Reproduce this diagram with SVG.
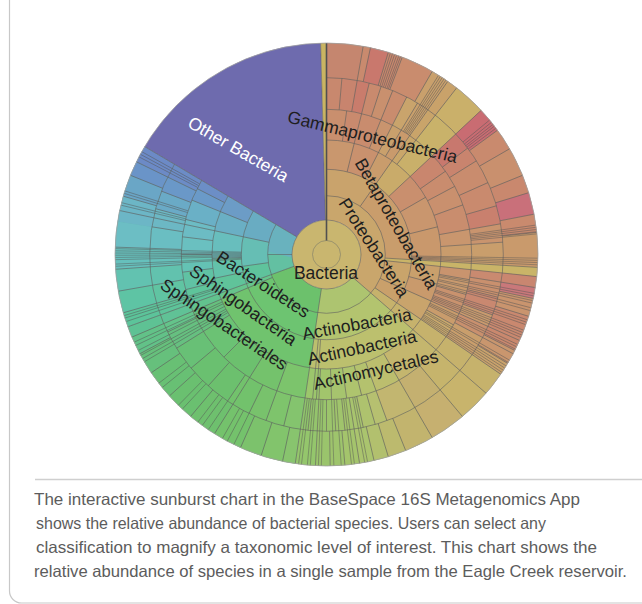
<svg xmlns="http://www.w3.org/2000/svg" width="642" height="604" viewBox="0 0 642 604">
<style>
.cl circle{fill:none}
.w2{stroke-width:24.3}.w3{stroke-width:26.4}.w4{stroke-width:29.3}.w5{stroke-width:30.7}.w6{stroke-width:31.6}.w7{stroke-width:34.7}.wA{stroke-width:177}
.ln{stroke:#606060;stroke-width:0.6;fill:none}
.fn{stroke:#555;stroke-width:0.45}
.arc{fill:none;stroke:#606060;stroke-width:0.6}
.lb{font-family:"Liberation Sans",Arial,Helvetica,sans-serif;font-size:17.5px;fill:#1e1e1e;text-anchor:middle}
.cap{font-family:"Liberation Sans",Arial,Helvetica,sans-serif;font-size:16.5px;fill:#5c5c5c}
</style>
<rect width="642" height="604" fill="#fff"/>
<g id="frame">
<path d="M9.5 0V591a12 12 0 0 0 12 12H642" fill="none" stroke="#c8c8c8" stroke-width="1.2"/>
<line x1="35" y1="479.5" x2="642" y2="479.5" stroke="#cfcfcf" stroke-width="1.3"/>
</g>

<g id="cells" class="cl" transform="translate(326.5 254.5) rotate(-90)">
<circle r="123" class="wA" pathLength="360" stroke="#c9986c" stroke-dasharray="131 360"/>
<circle r="123" class="wA" pathLength="360" stroke="#b9c06e" stroke-dasharray="57.5 360" stroke-dashoffset="-131"/>
<circle r="123" class="wA" pathLength="360" stroke="#70c26e" stroke-dasharray="61.5 360" stroke-dashoffset="-188.5"/>
<circle r="123" class="wA" pathLength="360" stroke="#66bcb6" stroke-dasharray="50.7 360" stroke-dashoffset="-250"/>
<circle r="123" class="wA" pathLength="360" stroke="#6e6bae" stroke-dasharray="57.7 360" stroke-dashoffset="-300.7"/>
<circle r="123" class="wA" pathLength="360" stroke="#c9b462" stroke-dasharray="1.6 360" stroke-dashoffset="-358.4"/>

<circle r="46.65" class="w2" pathLength="360" stroke="#c9a66c" stroke-dasharray="131 360"/>
<circle r="46.65" class="w2" pathLength="360" stroke="#adc470" stroke-dasharray="57.5 360" stroke-dashoffset="-131"/>
<circle r="46.65" class="w2" pathLength="360" stroke="#6cc16c" stroke-dasharray="61.5 360" stroke-dashoffset="-188.5"/>
<circle r="46.65" class="w2" pathLength="360" stroke="#63c0a2" stroke-dasharray="20 360" stroke-dashoffset="-250"/>
<circle r="46.65" class="w2" pathLength="360" stroke="#69b2be" stroke-dasharray="30.7 360" stroke-dashoffset="-270"/>

<circle r="72" class="w3" pathLength="360" stroke="#c9a36c" stroke-dasharray="35 360"/>
<circle r="72" class="w3" pathLength="360" stroke="#c99d6c" stroke-dasharray="58.5 360" stroke-dashoffset="-35"/>
<circle r="72" class="w3" pathLength="360" stroke="#c9b468" stroke-dasharray="2.5 360" stroke-dashoffset="-93.5"/>
<circle r="72" class="w3" pathLength="360" stroke="#c9a46b" stroke-dasharray="18 360" stroke-dashoffset="-96"/>
<circle r="72" class="w3" pathLength="360" stroke="#c9a06b" stroke-dasharray="10.5 360" stroke-dashoffset="-114"/>
<circle r="72" class="w3" pathLength="360" stroke="#c6b26c" stroke-dasharray="6.5 360" stroke-dashoffset="-124.5"/>
<circle r="72" class="w3" pathLength="360" stroke="#b3c46f" stroke-dasharray="57.5 360" stroke-dashoffset="-131"/>
<circle r="72" class="w3" pathLength="360" stroke="#6dc471" stroke-dasharray="58.5 360" stroke-dashoffset="-188.5"/>
<circle r="72" class="w3" pathLength="360" stroke="#66c48c" stroke-dasharray="3 360" stroke-dashoffset="-247"/>
<circle r="72" class="w3" pathLength="360" stroke="#5fc39c" stroke-dasharray="12 360" stroke-dashoffset="-250"/>
<circle r="72" class="w3" pathLength="360" stroke="#66beb4" stroke-dasharray="20 360" stroke-dashoffset="-262"/>
<circle r="72" class="w3" pathLength="360" stroke="#69acc2" stroke-dasharray="18.7 360" stroke-dashoffset="-282"/>

<circle r="99.85" class="w4" pathLength="360" stroke="#c9976e" stroke-dasharray="14 360"/>
<circle r="99.85" class="w4" pathLength="360" stroke="#c9916e" stroke-dasharray="13 360" stroke-dashoffset="-14"/>
<circle r="99.85" class="w4" pathLength="360" stroke="#c99c6c" stroke-dasharray="8 360" stroke-dashoffset="-27"/>
<circle r="99.85" class="w4" pathLength="360" stroke="#c9ab6a" stroke-dasharray="12 360" stroke-dashoffset="-35"/>
<circle r="99.85" class="w4" pathLength="360" stroke="#c98f6e" stroke-dasharray="13 360" stroke-dashoffset="-47"/>
<circle r="99.85" class="w4" pathLength="360" stroke="#c9966e" stroke-dasharray="16 360" stroke-dashoffset="-60"/>
<circle r="99.85" class="w4" pathLength="360" stroke="#c9986c" stroke-dasharray="17.5 360" stroke-dashoffset="-76"/>
<circle r="99.85" class="w4" pathLength="360" stroke="#c9b468" stroke-dasharray="2.5 360" stroke-dashoffset="-93.5"/>
<circle r="99.85" class="w4" pathLength="360" stroke="#c9a06c" stroke-dasharray="9 360" stroke-dashoffset="-96"/>
<circle r="99.85" class="w4" pathLength="360" stroke="#c99a6c" stroke-dasharray="9 360" stroke-dashoffset="-105"/>
<circle r="99.85" class="w4" pathLength="360" stroke="#c9a46c" stroke-dasharray="10.5 360" stroke-dashoffset="-114"/>
<circle r="99.85" class="w4" pathLength="360" stroke="#c6b26c" stroke-dasharray="6.5 360" stroke-dashoffset="-124.5"/>
<circle r="99.85" class="w4" pathLength="360" stroke="#bcc06e" stroke-dasharray="57.5 360" stroke-dashoffset="-131"/>
<circle r="99.85" class="w4" pathLength="360" stroke="#70c36e" stroke-dasharray="58.5 360" stroke-dashoffset="-188.5"/>
<circle r="99.85" class="w4" pathLength="360" stroke="#66c48c" stroke-dasharray="3 360" stroke-dashoffset="-247"/>
<circle r="99.85" class="w4" pathLength="360" stroke="#60c39a" stroke-dasharray="8 360" stroke-dashoffset="-250"/>
<circle r="99.85" class="w4" pathLength="360" stroke="#63c2aa" stroke-dasharray="10 360" stroke-dashoffset="-258"/>
<circle r="99.85" class="w4" pathLength="360" stroke="#68bebd" stroke-dasharray="14 360" stroke-dashoffset="-268"/>
<circle r="99.85" class="w4" pathLength="360" stroke="#6aafc4" stroke-dasharray="10 360" stroke-dashoffset="-282"/>
<circle r="99.85" class="w4" pathLength="360" stroke="#6c9cc6" stroke-dasharray="8.7 360" stroke-dashoffset="-292"/>

<circle r="129.85" class="w5" pathLength="360" stroke="#c98f6e" stroke-dasharray="8 360"/>
<circle r="129.85" class="w5" pathLength="360" stroke="#c98a6e" stroke-dasharray="6 360" stroke-dashoffset="-8"/>
<circle r="129.85" class="w5" pathLength="360" stroke="#c98c6e" stroke-dasharray="8 360" stroke-dashoffset="-14"/>
<circle r="129.85" class="w5" pathLength="360" stroke="#c9946e" stroke-dasharray="5 360" stroke-dashoffset="-22"/>
<circle r="129.85" class="w5" pathLength="360" stroke="#c9a06c" stroke-dasharray="4 360" stroke-dashoffset="-27"/>
<circle r="129.85" class="w5" pathLength="360" stroke="#c99a6c" stroke-dasharray="4 360" stroke-dashoffset="-31"/>
<circle r="129.85" class="w5" pathLength="360" stroke="#c9a66a" stroke-dasharray="3 360" stroke-dashoffset="-35"/>
<circle r="129.85" class="w5" pathLength="360" stroke="#c9b06a" stroke-dasharray="9 360" stroke-dashoffset="-38"/>
<circle r="129.85" class="w5" pathLength="360" stroke="#c9866e" stroke-dasharray="8 360" stroke-dashoffset="-47"/>
<circle r="129.85" class="w5" pathLength="360" stroke="#c98c6e" stroke-dasharray="7 360" stroke-dashoffset="-55"/>
<circle r="129.85" class="w5" pathLength="360" stroke="#c9906e" stroke-dasharray="8 360" stroke-dashoffset="-62"/>
<circle r="129.85" class="w5" pathLength="360" stroke="#c98d6e" stroke-dasharray="10 360" stroke-dashoffset="-70"/>
<circle r="129.85" class="w5" pathLength="360" stroke="#c9966e" stroke-dasharray="6 360" stroke-dashoffset="-80"/>
<circle r="129.85" class="w5" pathLength="360" stroke="#c99c6c" stroke-dasharray="7.5 360" stroke-dashoffset="-86"/>
<circle r="129.85" class="w5" pathLength="360" stroke="#c9b468" stroke-dasharray="2.5 360" stroke-dashoffset="-93.5"/>
<circle r="129.85" class="w5" pathLength="360" stroke="#c9946e" stroke-dasharray="4 360" stroke-dashoffset="-96"/>
<circle r="129.85" class="w5" pathLength="360" stroke="#c99a6e" stroke-dasharray="6 360" stroke-dashoffset="-100"/>
<circle r="129.85" class="w5" pathLength="360" stroke="#c9926e" stroke-dasharray="8 360" stroke-dashoffset="-106"/>
<circle r="129.85" class="w5" pathLength="360" stroke="#c99c6c" stroke-dasharray="5 360" stroke-dashoffset="-114"/>
<circle r="129.85" class="w5" pathLength="360" stroke="#c9a86c" stroke-dasharray="5.5 360" stroke-dashoffset="-119"/>
<circle r="129.85" class="w5" pathLength="360" stroke="#c6b26c" stroke-dasharray="6.5 360" stroke-dashoffset="-124.5"/>
<circle r="129.85" class="w5" pathLength="360" stroke="#c4b66e" stroke-dasharray="19 360" stroke-dashoffset="-131"/>
<circle r="129.85" class="w5" pathLength="360" stroke="#bcbe6e" stroke-dasharray="10 360" stroke-dashoffset="-150"/>
<circle r="129.85" class="w5" pathLength="360" stroke="#b4c26e" stroke-dasharray="6 360" stroke-dashoffset="-160"/>
<circle r="129.85" class="w5" pathLength="360" stroke="#aec46e" stroke-dasharray="6 360" stroke-dashoffset="-166"/>
<circle r="129.85" class="w5" pathLength="360" stroke="#a6c46e" stroke-dasharray="6 360" stroke-dashoffset="-172"/>
<circle r="129.85" class="w5" pathLength="360" stroke="#a2c56c" stroke-dasharray="5 360" stroke-dashoffset="-178"/>
<circle r="129.85" class="w5" pathLength="360" stroke="#9cc66c" stroke-dasharray="5.5 360" stroke-dashoffset="-183"/>
<circle r="129.85" class="w5" pathLength="360" stroke="#7cc46c" stroke-dasharray="11.5 360" stroke-dashoffset="-188.5"/>
<circle r="129.85" class="w5" pathLength="360" stroke="#74c26c" stroke-dasharray="12 360" stroke-dashoffset="-200"/>
<circle r="129.85" class="w5" pathLength="360" stroke="#6cc06e" stroke-dasharray="13 360" stroke-dashoffset="-212"/>
<circle r="129.85" class="w5" pathLength="360" stroke="#6bc274" stroke-dasharray="13 360" stroke-dashoffset="-225"/>
<circle r="129.85" class="w5" pathLength="360" stroke="#66c07e" stroke-dasharray="9 360" stroke-dashoffset="-238"/>
<circle r="129.85" class="w5" pathLength="360" stroke="#62c28e" stroke-dasharray="3 360" stroke-dashoffset="-247"/>
<circle r="129.85" class="w5" pathLength="360" stroke="#5ec49a" stroke-dasharray="6 360" stroke-dashoffset="-250"/>
<circle r="129.85" class="w5" pathLength="360" stroke="#60c2a4" stroke-dasharray="7 360" stroke-dashoffset="-256"/>
<circle r="129.85" class="w5" pathLength="360" stroke="#64c2b4" stroke-dasharray="7 360" stroke-dashoffset="-263"/>
<circle r="129.85" class="w5" pathLength="360" stroke="#6ac0c0" stroke-dasharray="7 360" stroke-dashoffset="-270"/>
<circle r="129.85" class="w5" pathLength="360" stroke="#6cbcc4" stroke-dasharray="7 360" stroke-dashoffset="-277"/>
<circle r="129.85" class="w5" pathLength="360" stroke="#6ab0c6" stroke-dasharray="8 360" stroke-dashoffset="-284"/>
<circle r="129.85" class="w5" pathLength="360" stroke="#6a9ac8" stroke-dasharray="5 360" stroke-dashoffset="-292"/>
<circle r="129.85" class="w5" pathLength="360" stroke="#6c8ec6" stroke-dasharray="3.7 360" stroke-dashoffset="-297"/>

<circle r="161" class="w6" pathLength="360" stroke="#c8886e" stroke-dasharray="5 360"/>
<circle r="161" class="w6" pathLength="360" stroke="#c8846e" stroke-dasharray="5 360" stroke-dashoffset="-5"/>
<circle r="161" class="w6" pathLength="360" stroke="#c97c6c" stroke-dasharray="4 360" stroke-dashoffset="-10"/>
<circle r="161" class="w6" pathLength="360" stroke="#c98a6e" stroke-dasharray="4 360" stroke-dashoffset="-14"/>
<circle r="161" class="w6" pathLength="360" stroke="#c9906e" stroke-dasharray="4 360" stroke-dashoffset="-18"/>
<circle r="161" class="w6" pathLength="360" stroke="#c98c6e" stroke-dasharray="5 360" stroke-dashoffset="-22"/>
<circle r="161" class="w6" pathLength="360" stroke="#c9a46c" stroke-dasharray="4 360" stroke-dashoffset="-27"/>
<circle r="161" class="w6" pathLength="360" stroke="#c9a06c" stroke-dasharray="4 360" stroke-dashoffset="-31"/>
<circle r="161" class="w6" pathLength="360" stroke="#c9a46a" stroke-dasharray="3 360" stroke-dashoffset="-35"/>
<circle r="161" class="w6" pathLength="360" stroke="#c9b26a" stroke-dasharray="9 360" stroke-dashoffset="-38"/>
<circle r="161" class="w6" pathLength="360" stroke="#c8786e" stroke-dasharray="6 360" stroke-dashoffset="-47"/>
<circle r="161" class="w6" pathLength="360" stroke="#c9846e" stroke-dasharray="5 360" stroke-dashoffset="-53"/>
<circle r="161" class="w6" pathLength="360" stroke="#c98c6e" stroke-dasharray="8 360" stroke-dashoffset="-58"/>
<circle r="161" class="w6" pathLength="360" stroke="#c98a6e" stroke-dasharray="8 360" stroke-dashoffset="-66"/>
<circle r="161" class="w6" pathLength="360" stroke="#c9806e" stroke-dasharray="6 360" stroke-dashoffset="-74"/>
<circle r="161" class="w6" pathLength="360" stroke="#c9946e" stroke-dasharray="6 360" stroke-dashoffset="-80"/>
<circle r="161" class="w6" pathLength="360" stroke="#c99e6c" stroke-dasharray="7.5 360" stroke-dashoffset="-86"/>
<circle r="161" class="w6" pathLength="360" stroke="#c9b468" stroke-dasharray="2.5 360" stroke-dashoffset="-93.5"/>
<circle r="161" class="w6" pathLength="360" stroke="#c98a70" stroke-dasharray="3 360" stroke-dashoffset="-96"/>
<circle r="161" class="w6" pathLength="360" stroke="#c9906e" stroke-dasharray="5 360" stroke-dashoffset="-99"/>
<circle r="161" class="w6" pathLength="360" stroke="#c98870" stroke-dasharray="6 360" stroke-dashoffset="-104"/>
<circle r="161" class="w6" pathLength="360" stroke="#c99a6e" stroke-dasharray="4 360" stroke-dashoffset="-110"/>
<circle r="161" class="w6" pathLength="360" stroke="#c9906e" stroke-dasharray="4 360" stroke-dashoffset="-114"/>
<circle r="161" class="w6" pathLength="360" stroke="#c99e6c" stroke-dasharray="6.5 360" stroke-dashoffset="-118"/>
<circle r="161" class="w6" pathLength="360" stroke="#c6b26c" stroke-dasharray="6.5 360" stroke-dashoffset="-124.5"/>
<circle r="161" class="w6" pathLength="360" stroke="#c6b46c" stroke-dasharray="9 360" stroke-dashoffset="-131"/>
<circle r="161" class="w6" pathLength="360" stroke="#c4b070" stroke-dasharray="10 360" stroke-dashoffset="-140"/>
<circle r="161" class="w6" pathLength="360" stroke="#c2b670" stroke-dasharray="10 360" stroke-dashoffset="-150"/>
<circle r="161" class="w6" pathLength="360" stroke="#b6c070" stroke-dasharray="4 360" stroke-dashoffset="-160"/>
<circle r="161" class="w6" pathLength="360" stroke="#aec26e" stroke-dasharray="4 360" stroke-dashoffset="-164"/>
<circle r="161" class="w6" pathLength="360" stroke="#a8c46e" stroke-dasharray="3 360" stroke-dashoffset="-168"/>
<circle r="161" class="w6" pathLength="360" stroke="#a4c46c" stroke-dasharray="3 360" stroke-dashoffset="-171"/>
<circle r="161" class="w6" pathLength="360" stroke="#a0c46c" stroke-dasharray="3 360" stroke-dashoffset="-174"/>
<circle r="161" class="w6" pathLength="360" stroke="#9cc46c" stroke-dasharray="3 360" stroke-dashoffset="-177"/>
<circle r="161" class="w6" pathLength="360" stroke="#98c46c" stroke-dasharray="3 360" stroke-dashoffset="-180"/>
<circle r="161" class="w6" pathLength="360" stroke="#94c46c" stroke-dasharray="3 360" stroke-dashoffset="-183"/>
<circle r="161" class="w6" pathLength="360" stroke="#90c46c" stroke-dasharray="2.5 360" stroke-dashoffset="-186"/>
<circle r="161" class="w6" pathLength="360" stroke="#84c46e" stroke-dasharray="5.5 360" stroke-dashoffset="-188.5"/>
<circle r="161" class="w6" pathLength="360" stroke="#7ec46c" stroke-dasharray="6 360" stroke-dashoffset="-194"/>
<circle r="161" class="w6" pathLength="360" stroke="#78c26c" stroke-dasharray="6 360" stroke-dashoffset="-200"/>
<circle r="161" class="w6" pathLength="360" stroke="#72c26c" stroke-dasharray="8 360" stroke-dashoffset="-206"/>
<circle r="161" class="w6" pathLength="360" stroke="#6cc06e" stroke-dasharray="8 360" stroke-dashoffset="-214"/>
<circle r="161" class="w6" pathLength="360" stroke="#6ac070" stroke-dasharray="8 360" stroke-dashoffset="-222"/>
<circle r="161" class="w6" pathLength="360" stroke="#68c076" stroke-dasharray="8 360" stroke-dashoffset="-230"/>
<circle r="161" class="w6" pathLength="360" stroke="#66c080" stroke-dasharray="6 360" stroke-dashoffset="-238"/>
<circle r="161" class="w6" pathLength="360" stroke="#64c48a" stroke-dasharray="3 360" stroke-dashoffset="-244"/>
<circle r="161" class="w6" pathLength="360" stroke="#60c296" stroke-dasharray="3 360" stroke-dashoffset="-247"/>
<circle r="161" class="w6" pathLength="360" stroke="#5ec49a" stroke-dasharray="4 360" stroke-dashoffset="-250"/>
<circle r="161" class="w6" pathLength="360" stroke="#60c4a2" stroke-dasharray="6 360" stroke-dashoffset="-254"/>
<circle r="161" class="w6" pathLength="360" stroke="#62c2ae" stroke-dasharray="6 360" stroke-dashoffset="-260"/>
<circle r="161" class="w6" pathLength="360" stroke="#66c0ba" stroke-dasharray="6 360" stroke-dashoffset="-266"/>
<circle r="161" class="w6" pathLength="360" stroke="#6abec2" stroke-dasharray="7 360" stroke-dashoffset="-272"/>
<circle r="161" class="w6" pathLength="360" stroke="#6cb8c4" stroke-dasharray="6 360" stroke-dashoffset="-279"/>
<circle r="161" class="w6" pathLength="360" stroke="#6aaac6" stroke-dasharray="6 360" stroke-dashoffset="-285"/>
<circle r="161" class="w6" pathLength="360" stroke="#6a98c8" stroke-dasharray="5 360" stroke-dashoffset="-291"/>
<circle r="161" class="w6" pathLength="360" stroke="#6c8cc6" stroke-dasharray="4.7 360" stroke-dashoffset="-296"/>

<circle r="194.15" class="w7" pathLength="360" stroke="#c5866f" stroke-dasharray="10 360"/>
<circle r="194.15" class="w7" pathLength="360" stroke="#c98a6e" stroke-dasharray="2 360" stroke-dashoffset="-10"/>
<circle r="194.15" class="w7" pathLength="360" stroke="#c9786d" stroke-dasharray="5 360" stroke-dashoffset="-12"/>
<circle r="194.15" class="w7" pathLength="360" stroke="#c9886e" stroke-dasharray="4 360" stroke-dashoffset="-17"/>
<circle r="194.15" class="w7" pathLength="360" stroke="#c98c6e" stroke-dasharray="9 360" stroke-dashoffset="-21"/>
<circle r="194.15" class="w7" pathLength="360" stroke="#c9a06c" stroke-dasharray="5 360" stroke-dashoffset="-30"/>
<circle r="194.15" class="w7" pathLength="360" stroke="#c9a26a" stroke-dasharray="3 360" stroke-dashoffset="-35"/>
<circle r="194.15" class="w7" pathLength="360" stroke="#cab06a" stroke-dasharray="9 360" stroke-dashoffset="-38"/>
<circle r="194.15" class="w7" pathLength="360" stroke="#c96c72" stroke-dasharray="7 360" stroke-dashoffset="-47"/>
<circle r="194.15" class="w7" pathLength="360" stroke="#c98a6e" stroke-dasharray="6 360" stroke-dashoffset="-54"/>
<circle r="194.15" class="w7" pathLength="360" stroke="#c9906e" stroke-dasharray="8 360" stroke-dashoffset="-60"/>
<circle r="194.15" class="w7" pathLength="360" stroke="#c9886e" stroke-dasharray="5 360" stroke-dashoffset="-68"/>
<circle r="194.15" class="w7" pathLength="360" stroke="#c9707a" stroke-dasharray="6 360" stroke-dashoffset="-73"/>
<circle r="194.15" class="w7" pathLength="360" stroke="#c98a6e" stroke-dasharray="5 360" stroke-dashoffset="-79"/>
<circle r="194.15" class="w7" pathLength="360" stroke="#c99a6c" stroke-dasharray="9.5 360" stroke-dashoffset="-84"/>
<circle r="194.15" class="w7" pathLength="360" stroke="#c9b468" stroke-dasharray="2.5 360" stroke-dashoffset="-93.5"/>
<circle r="194.15" class="w7" pathLength="360" stroke="#c98670" stroke-dasharray="3 360" stroke-dashoffset="-96"/>
<circle r="194.15" class="w7" pathLength="360" stroke="#c9787a" stroke-dasharray="3 360" stroke-dashoffset="-99"/>
<circle r="194.15" class="w7" pathLength="360" stroke="#c9946e" stroke-dasharray="5 360" stroke-dashoffset="-102"/>
<circle r="194.15" class="w7" pathLength="360" stroke="#c9886f" stroke-dasharray="7 360" stroke-dashoffset="-107"/>
<circle r="194.15" class="w7" pathLength="360" stroke="#c9886e" stroke-dasharray="3 360" stroke-dashoffset="-114"/>
<circle r="194.15" class="w7" pathLength="360" stroke="#c9966e" stroke-dasharray="4 360" stroke-dashoffset="-117"/>
<circle r="194.15" class="w7" pathLength="360" stroke="#c9a26c" stroke-dasharray="3.5 360" stroke-dashoffset="-121"/>
<circle r="194.15" class="w7" pathLength="360" stroke="#c6b26c" stroke-dasharray="6.5 360" stroke-dashoffset="-124.5"/>
<circle r="194.15" class="w7" pathLength="360" stroke="#c8b46c" stroke-dasharray="9 360" stroke-dashoffset="-131"/>
<circle r="194.15" class="w7" pathLength="360" stroke="#c6b070" stroke-dasharray="10 360" stroke-dashoffset="-140"/>
<circle r="194.15" class="w7" pathLength="360" stroke="#c2b46e" stroke-dasharray="8 360" stroke-dashoffset="-150"/>
<circle r="194.15" class="w7" pathLength="360" stroke="#bcba6e" stroke-dasharray="5 360" stroke-dashoffset="-158"/>
<circle r="194.15" class="w7" pathLength="360" stroke="#b2c06e" stroke-dasharray="4 360" stroke-dashoffset="-163"/>
<circle r="194.15" class="w7" pathLength="360" stroke="#aac46e" stroke-dasharray="4 360" stroke-dashoffset="-167"/>
<circle r="194.15" class="w7" pathLength="360" stroke="#a4c46c" stroke-dasharray="4 360" stroke-dashoffset="-171"/>
<circle r="194.15" class="w7" pathLength="360" stroke="#9ec46c" stroke-dasharray="4 360" stroke-dashoffset="-175"/>
<circle r="194.15" class="w7" pathLength="360" stroke="#9ac46c" stroke-dasharray="4 360" stroke-dashoffset="-179"/>
<circle r="194.15" class="w7" pathLength="360" stroke="#94c66c" stroke-dasharray="5.5 360" stroke-dashoffset="-183"/>
<circle r="194.15" class="w7" pathLength="360" stroke="#88c46e" stroke-dasharray="3.5 360" stroke-dashoffset="-188.5"/>
<circle r="194.15" class="w7" pathLength="360" stroke="#82c46c" stroke-dasharray="6 360" stroke-dashoffset="-192"/>
<circle r="194.15" class="w7" pathLength="360" stroke="#7cc26c" stroke-dasharray="6 360" stroke-dashoffset="-198"/>
<circle r="194.15" class="w7" pathLength="360" stroke="#74c26c" stroke-dasharray="8 360" stroke-dashoffset="-204"/>
<circle r="194.15" class="w7" pathLength="360" stroke="#6ec06e" stroke-dasharray="8 360" stroke-dashoffset="-212"/>
<circle r="194.15" class="w7" pathLength="360" stroke="#6ac070" stroke-dasharray="8 360" stroke-dashoffset="-220"/>
<circle r="194.15" class="w7" pathLength="360" stroke="#68c074" stroke-dasharray="8 360" stroke-dashoffset="-228"/>
<circle r="194.15" class="w7" pathLength="360" stroke="#66c07c" stroke-dasharray="6 360" stroke-dashoffset="-236"/>
<circle r="194.15" class="w7" pathLength="360" stroke="#62c288" stroke-dasharray="5 360" stroke-dashoffset="-242"/>
<circle r="194.15" class="w7" pathLength="360" stroke="#5ec294" stroke-dasharray="3 360" stroke-dashoffset="-247"/>
<circle r="194.15" class="w7" pathLength="360" stroke="#5cc49a" stroke-dasharray="4 360" stroke-dashoffset="-250"/>
<circle r="194.15" class="w7" pathLength="360" stroke="#5ec4a4" stroke-dasharray="6 360" stroke-dashoffset="-254"/>
<circle r="194.15" class="w7" pathLength="360" stroke="#62c2b0" stroke-dasharray="6 360" stroke-dashoffset="-260"/>
<circle r="194.15" class="w7" pathLength="360" stroke="#66c0bc" stroke-dasharray="6 360" stroke-dashoffset="-266"/>
<circle r="194.15" class="w7" pathLength="360" stroke="#6cbec4" stroke-dasharray="7 360" stroke-dashoffset="-272"/>
<circle r="194.15" class="w7" pathLength="360" stroke="#6cb6c6" stroke-dasharray="7 360" stroke-dashoffset="-279"/>
<circle r="194.15" class="w7" pathLength="360" stroke="#6aa6c6" stroke-dasharray="6 360" stroke-dashoffset="-286"/>
<circle r="194.15" class="w7" pathLength="360" stroke="#6a94c8" stroke-dasharray="4 360" stroke-dashoffset="-292"/>
<circle r="194.15" class="w7" pathLength="360" stroke="#6c8ac6" stroke-dasharray="4.7 360" stroke-dashoffset="-296"/>
</g>

<g id="center">
<circle cx="326.5" cy="254.5" r="34.5" fill="#c9b66f" stroke="#606060" stroke-width="0.6"/>
<circle cx="326.5" cy="254.5" r="14" fill="none" stroke="#7a7a6a" stroke-width="0.6"/>
</g>

<g id="connectors">
<g class="arc" transform="translate(326.5 254.5) rotate(-90)">
<circle r="58.8" pathLength="360" stroke-dasharray="300.7 360"/>
<circle r="85.2" pathLength="360" stroke-dasharray="300.7 360"/>
<circle r="114.5" pathLength="360" stroke-dasharray="300.7 360"/>
<circle r="145.2" pathLength="360" stroke-dasharray="300.7 360"/>
<circle r="176.8" pathLength="360" stroke-dasharray="300.7 360"/>
</g>
<g class="ln" transform="translate(326.5 254.5)">
<line y1="-34.5" y2="-211.5" transform="rotate(131)"/>
<line y1="-34.5" y2="-211.5" transform="rotate(188.5)"/>
<line y1="-34.5" y2="-211.5" transform="rotate(250)"/>
<line y1="-34.5" y2="-211.5" transform="rotate(300.7)"/>
<line y1="-34.5" y2="-211.5" transform="rotate(358.4)"/>
<line y1="-34.5" y2="-58.8" transform="rotate(270)"/>
<line y1="-58.8" y2="-211.5" transform="rotate(35)"/>
<line y1="-58.8" y2="-211.5" transform="rotate(93.5)"/>
<line y1="-58.8" y2="-211.5" transform="rotate(96)"/>
<line y1="-58.8" y2="-211.5" transform="rotate(114)"/>
<line y1="-58.8" y2="-211.5" transform="rotate(124.5)"/>
<line y1="-58.8" y2="-211.5" transform="rotate(247)"/>
<line y1="-58.8" y2="-211.5" transform="rotate(282)"/>
<line y1="-58.8" y2="-85.2" transform="rotate(262)"/>
<line y1="-85.2" y2="-176.8" transform="rotate(14)"/>
<line y1="-85.2" y2="-176.8" transform="rotate(27)"/>
<line y1="-85.2" y2="-211.5" transform="rotate(47)"/>
<line y1="-85.2" y2="-114.5" transform="rotate(60)"/>
<line y1="-85.2" y2="-114.5" transform="rotate(76)"/>
<line y1="-85.2" y2="-114.5" transform="rotate(105)"/>
<line y1="-85.2" y2="-114.5" transform="rotate(258)"/>
<line y1="-85.2" y2="-114.5" transform="rotate(268)"/>
<line y1="-85.2" y2="-145.2" transform="rotate(292)"/>
<line y1="-85.2" y2="-145.2" transform="rotate(184)"/>
<line y1="-85.2" y2="-145.2" transform="rotate(185.5)"/>
<line y1="-114.5" y2="-211.5" transform="rotate(150)"/>
<line y1="-114.5" y2="-145.2" transform="rotate(8)"/>
<line y1="-114.5" y2="-145.2" transform="rotate(55)"/>
<line y1="-114.5" y2="-145.2" transform="rotate(62)"/>
<line y1="-114.5" y2="-145.2" transform="rotate(70)"/>
<line y1="-114.5" y2="-145.2" transform="rotate(100)"/>
<line y1="-114.5" y2="-145.2" transform="rotate(106)"/>
<line y1="-114.5" y2="-145.2" transform="rotate(119)"/>
<line y1="-114.5" y2="-145.2" transform="rotate(166)"/>
<line y1="-114.5" y2="-145.2" transform="rotate(172)"/>
<line y1="-114.5" y2="-145.2" transform="rotate(178)"/>
<line y1="-114.5" y2="-145.2" transform="rotate(225)"/>
<line y1="-114.5" y2="-145.2" transform="rotate(256)"/>
<line y1="-114.5" y2="-145.2" transform="rotate(263)"/>
<line y1="-114.5" y2="-145.2" transform="rotate(270)"/>
<line y1="-114.5" y2="-145.2" transform="rotate(277)"/>
<line y1="-114.5" y2="-145.2" transform="rotate(284)"/>
<line y1="-114.5" y2="-145.2" transform="rotate(297)"/>
<line y1="-114.5" y2="-176.8" transform="rotate(22)"/>
<line y1="-114.5" y2="-176.8" transform="rotate(31)"/>
<line y1="-114.5" y2="-176.8" transform="rotate(80)"/>
<line y1="-114.5" y2="-176.8" transform="rotate(86)"/>
<line y1="-114.5" y2="-176.8" transform="rotate(160)"/>
<line y1="-114.5" y2="-176.8" transform="rotate(183)"/>
<line y1="-114.5" y2="-176.8" transform="rotate(200)"/>
<line y1="-114.5" y2="-176.8" transform="rotate(238)"/>
<line y1="-114.5" y2="-211.5" transform="rotate(38)"/>
<line y1="-114.5" y2="-211.5" transform="rotate(212)"/>
<line y1="-145.2" y2="-176.8" transform="rotate(5)"/>
<line y1="-145.2" y2="-176.8" transform="rotate(18)"/>
<line y1="-145.2" y2="-176.8" transform="rotate(53)"/>
<line y1="-145.2" y2="-176.8" transform="rotate(58)"/>
<line y1="-145.2" y2="-176.8" transform="rotate(66)"/>
<line y1="-145.2" y2="-176.8" transform="rotate(74)"/>
<line y1="-145.2" y2="-176.8" transform="rotate(104)"/>
<line y1="-145.2" y2="-176.8" transform="rotate(110)"/>
<line y1="-145.2" y2="-176.8" transform="rotate(164)"/>
<line y1="-145.2" y2="-176.8" transform="rotate(168)"/>
<line y1="-145.2" y2="-176.8" transform="rotate(171)"/>
<line y1="-145.2" y2="-176.8" transform="rotate(174)"/>
<line y1="-145.2" y2="-176.8" transform="rotate(177)"/>
<line y1="-145.2" y2="-176.8" transform="rotate(180)"/>
<line y1="-145.2" y2="-176.8" transform="rotate(186)"/>
<line y1="-145.2" y2="-176.8" transform="rotate(194)"/>
<line y1="-145.2" y2="-176.8" transform="rotate(206)"/>
<line y1="-145.2" y2="-176.8" transform="rotate(214)"/>
<line y1="-145.2" y2="-176.8" transform="rotate(222)"/>
<line y1="-145.2" y2="-176.8" transform="rotate(230)"/>
<line y1="-145.2" y2="-176.8" transform="rotate(244)"/>
<line y1="-145.2" y2="-176.8" transform="rotate(279)"/>
<line y1="-145.2" y2="-176.8" transform="rotate(285)"/>
<line y1="-145.2" y2="-176.8" transform="rotate(291)"/>
<line y1="-145.2" y2="-211.5" transform="rotate(10)"/>
<line y1="-145.2" y2="-211.5" transform="rotate(99)"/>
<line y1="-145.2" y2="-211.5" transform="rotate(118)"/>
<line y1="-145.2" y2="-211.5" transform="rotate(140)"/>
<line y1="-145.2" y2="-211.5" transform="rotate(254)"/>
<line y1="-145.2" y2="-211.5" transform="rotate(260)"/>
<line y1="-145.2" y2="-211.5" transform="rotate(266)"/>
<line y1="-145.2" y2="-211.5" transform="rotate(272)"/>
<line y1="-145.2" y2="-211.5" transform="rotate(296)"/>
<line y1="-176.8" y2="-211.5" transform="rotate(12)"/>
<line y1="-176.8" y2="-211.5" transform="rotate(17)"/>
<line y1="-176.8" y2="-211.5" transform="rotate(21)"/>
<line y1="-176.8" y2="-211.5" transform="rotate(30)"/>
<line y1="-176.8" y2="-211.5" transform="rotate(54)"/>
<line y1="-176.8" y2="-211.5" transform="rotate(60)"/>
<line y1="-176.8" y2="-211.5" transform="rotate(68)"/>
<line y1="-176.8" y2="-211.5" transform="rotate(73)"/>
<line y1="-176.8" y2="-211.5" transform="rotate(79)"/>
<line y1="-176.8" y2="-211.5" transform="rotate(84)"/>
<line y1="-176.8" y2="-211.5" transform="rotate(102)"/>
<line y1="-176.8" y2="-211.5" transform="rotate(107)"/>
<line y1="-176.8" y2="-211.5" transform="rotate(117)"/>
<line y1="-176.8" y2="-211.5" transform="rotate(121)"/>
<line y1="-176.8" y2="-211.5" transform="rotate(158)"/>
<line y1="-176.8" y2="-211.5" transform="rotate(163)"/>
<line y1="-176.8" y2="-211.5" transform="rotate(167)"/>
<line y1="-176.8" y2="-211.5" transform="rotate(171)"/>
<line y1="-176.8" y2="-211.5" transform="rotate(175)"/>
<line y1="-176.8" y2="-211.5" transform="rotate(179)"/>
<line y1="-176.8" y2="-211.5" transform="rotate(183)"/>
<line y1="-176.8" y2="-211.5" transform="rotate(192)"/>
<line y1="-176.8" y2="-211.5" transform="rotate(198)"/>
<line y1="-176.8" y2="-211.5" transform="rotate(204)"/>
<line y1="-176.8" y2="-211.5" transform="rotate(220)"/>
<line y1="-176.8" y2="-211.5" transform="rotate(228)"/>
<line y1="-176.8" y2="-211.5" transform="rotate(236)"/>
<line y1="-176.8" y2="-211.5" transform="rotate(242)"/>
<line y1="-176.8" y2="-211.5" transform="rotate(286)"/>
<line y1="-176.8" y2="-211.5" transform="rotate(292)"/>
<g class="fn">
<line y1="-176.8" y2="-211.5" transform="rotate(17.6)"/>
<line y1="-176.8" y2="-211.5" transform="rotate(18.2)"/>
<line y1="-176.8" y2="-211.5" transform="rotate(18.8)"/>
<line y1="-176.8" y2="-211.5" transform="rotate(19.4)"/>
<line y1="-176.8" y2="-211.5" transform="rotate(20)"/>
<line y1="-176.8" y2="-211.5" transform="rotate(20.5)"/>
<line y1="-176.8" y2="-211.5" transform="rotate(50.5)"/>
<line y1="-176.8" y2="-211.5" transform="rotate(51.3)"/>
<line y1="-176.8" y2="-211.5" transform="rotate(52)"/>
<line y1="-176.8" y2="-211.5" transform="rotate(52.6)"/>
<line y1="-176.8" y2="-211.5" transform="rotate(53.3)"/>
<line y1="-145.2" y2="-211.5" transform="rotate(32)"/>
<line y1="-145.2" y2="-211.5" transform="rotate(32.6)"/>
<line y1="-145.2" y2="-211.5" transform="rotate(33.2)"/>
<line y1="-145.2" y2="-211.5" transform="rotate(33.8)"/>
<line y1="-145.2" y2="-211.5" transform="rotate(34.4)"/>
<line y1="-145.2" y2="-211.5" transform="rotate(82)"/>
<line y1="-145.2" y2="-211.5" transform="rotate(82.6)"/>
<line y1="-145.2" y2="-211.5" transform="rotate(83.2)"/>
<line y1="-145.2" y2="-211.5" transform="rotate(83.8)"/>
<line y1="-145.2" y2="-211.5" transform="rotate(84.4)"/>
<line y1="-85.2" y2="-211.5" transform="rotate(91)"/>
<line y1="-85.2" y2="-211.5" transform="rotate(91.6)"/>
<line y1="-85.2" y2="-211.5" transform="rotate(92.2)"/>
<line y1="-85.2" y2="-211.5" transform="rotate(92.8)"/>
<line y1="-114.5" y2="-211.5" transform="rotate(100.6)"/>
<line y1="-114.5" y2="-211.5" transform="rotate(101.3)"/>
<line y1="-114.5" y2="-211.5" transform="rotate(102.6)"/>
<line y1="-114.5" y2="-211.5" transform="rotate(103.3)"/>
<line y1="-114.5" y2="-211.5" transform="rotate(104.6)"/>
<line y1="-114.5" y2="-211.5" transform="rotate(105.4)"/>
<line y1="-114.5" y2="-211.5" transform="rotate(108)"/>
<line y1="-114.5" y2="-211.5" transform="rotate(108.7)"/>
<line y1="-114.5" y2="-211.5" transform="rotate(109.4)"/>
<line y1="-114.5" y2="-211.5" transform="rotate(111)"/>
<line y1="-114.5" y2="-211.5" transform="rotate(111.7)"/>
<line y1="-114.5" y2="-211.5" transform="rotate(112.4)"/>
<line y1="-114.5" y2="-211.5" transform="rotate(113.1)"/>
<line y1="-114.5" y2="-211.5" transform="rotate(115.2)"/>
<line y1="-114.5" y2="-211.5" transform="rotate(115.9)"/>
<line y1="-114.5" y2="-211.5" transform="rotate(116.6)"/>
<line y1="-114.5" y2="-211.5" transform="rotate(120)"/>
<line y1="-114.5" y2="-211.5" transform="rotate(120.7)"/>
<line y1="-114.5" y2="-211.5" transform="rotate(121.8)"/>
<line y1="-114.5" y2="-211.5" transform="rotate(122.5)"/>
<line y1="-114.5" y2="-211.5" transform="rotate(123.2)"/>
<line y1="-114.5" y2="-211.5" transform="rotate(123.9)"/>
<line y1="-145.2" y2="-211.5" transform="rotate(168.8)"/>
<line y1="-145.2" y2="-211.5" transform="rotate(169.6)"/>
<line y1="-145.2" y2="-211.5" transform="rotate(172.4)"/>
<line y1="-145.2" y2="-211.5" transform="rotate(173.2)"/>
<line y1="-145.2" y2="-211.5" transform="rotate(176)"/>
<line y1="-145.2" y2="-211.5" transform="rotate(178)"/>
<line y1="-145.2" y2="-211.5" transform="rotate(181.4)"/>
<line y1="-145.2" y2="-211.5" transform="rotate(182.2)"/>
<line y1="-145.2" y2="-211.5" transform="rotate(184.4)"/>
<line y1="-145.2" y2="-211.5" transform="rotate(185.2)"/>
<line y1="-145.2" y2="-211.5" transform="rotate(186.8)"/>
<line y1="-145.2" y2="-211.5" transform="rotate(187.6)"/>
<line y1="-176.8" y2="-211.5" transform="rotate(206)"/>
<line y1="-176.8" y2="-211.5" transform="rotate(208)"/>
<line y1="-176.8" y2="-211.5" transform="rotate(209.5)"/>
<line y1="-176.8" y2="-211.5" transform="rotate(214)"/>
<line y1="-176.8" y2="-211.5" transform="rotate(216)"/>
<line y1="-176.8" y2="-211.5" transform="rotate(217.5)"/>
<line y1="-176.8" y2="-211.5" transform="rotate(223)"/>
<line y1="-176.8" y2="-211.5" transform="rotate(224.5)"/>
<line y1="-176.8" y2="-211.5" transform="rotate(231)"/>
<line y1="-176.8" y2="-211.5" transform="rotate(232.5)"/>
<line y1="-114.5" y2="-211.5" transform="rotate(239.5)"/>
<line y1="-114.5" y2="-211.5" transform="rotate(240.5)"/>
<line y1="-114.5" y2="-211.5" transform="rotate(241.5)"/>
<line y1="-114.5" y2="-211.5" transform="rotate(243)"/>
<line y1="-114.5" y2="-211.5" transform="rotate(244.5)"/>
<line y1="-114.5" y2="-211.5" transform="rotate(245.5)"/>
<line y1="-114.5" y2="-211.5" transform="rotate(251.5)"/>
<line y1="-114.5" y2="-211.5" transform="rotate(252.5)"/>
<line y1="-114.5" y2="-211.5" transform="rotate(253.2)"/>
<line y1="-85.2" y2="-211.5" transform="rotate(266.8)"/>
<line y1="-85.2" y2="-211.5" transform="rotate(267.4)"/>
<line y1="-85.2" y2="-211.5" transform="rotate(268.6)"/>
<line y1="-85.2" y2="-211.5" transform="rotate(269.2)"/>
<line y1="-85.2" y2="-211.5" transform="rotate(269.8)"/>
<line y1="-85.2" y2="-211.5" transform="rotate(270.4)"/>
<line y1="-85.2" y2="-211.5" transform="rotate(271)"/>
<line y1="-85.2" y2="-211.5" transform="rotate(271.6)"/>
<line y1="-145.2" y2="-211.5" transform="rotate(283.5)"/>
<line y1="-145.2" y2="-211.5" transform="rotate(284.2)"/>
<line y1="-145.2" y2="-211.5" transform="rotate(286.8)"/>
<line y1="-145.2" y2="-211.5" transform="rotate(287.5)"/>
<line y1="-145.2" y2="-211.5" transform="rotate(297.5)"/>
<line y1="-145.2" y2="-211.5" transform="rotate(298.3)"/>
<line y1="-145.2" y2="-211.5" transform="rotate(299.1)"/>
</g>
<line y1="-14" y2="-211.5" stroke="#505050" stroke-width="1.6"/>
</g>
<circle cx="326.5" cy="254.5" r="211.5" fill="none" stroke="#a0a0a0" stroke-width="0.8"/>
</g>

<g id="labels" class="lb">
<text x="326" y="279">Bacteria</text>
<text transform="translate(238.3 149.2) rotate(30)" dy=".35em" fill="#fff">Other Bacteria</text>
<text transform="translate(372.5 136.7) rotate(13.5)" dy=".35em">Gammaproteobacteria</text>
<text transform="translate(396.4 223.7) rotate(60)" dy=".35em">Betaproteobacteria</text>
<text transform="translate(374.2 247.5) rotate(57)" dy=".35em">Proteobacteria</text>
<text transform="translate(263.3 284.2) rotate(33)" dy=".35em">Bacteroidetes</text>
<text transform="translate(243.3 305) rotate(35)" dy=".35em">Sphingobacteria</text>
<text transform="translate(224.2 324.2) rotate(34)" dy=".35em">Sphingobacteriales</text>
<text transform="translate(357 324) rotate(-10.4)" dy=".35em">Actinobacteria</text>
<text transform="translate(362 347.3) rotate(-12.2)" dy=".35em">Actinobacteria</text>
<text transform="translate(375.8 369.9) rotate(-12.8)" dy=".35em">Actinomycetales</text>
</g>

<g id="caption" class="cap">
<text x="34" y="505" textLength="546" lengthAdjust="spacingAndGlyphs">The interactive sunburst chart in the BaseSpace 16S Metagenomics App</text>
<text x="36" y="529" textLength="510" lengthAdjust="spacingAndGlyphs">shows the relative abundance of bacterial species. Users can select any</text>
<text x="36" y="553" textLength="561" lengthAdjust="spacingAndGlyphs">classification to magnify a taxonomic level of interest. This chart shows the</text>
<text x="34" y="577" textLength="593" lengthAdjust="spacingAndGlyphs">relative abundance of species in a single sample from the Eagle Creek reservoir.</text>
</g>
</svg>
